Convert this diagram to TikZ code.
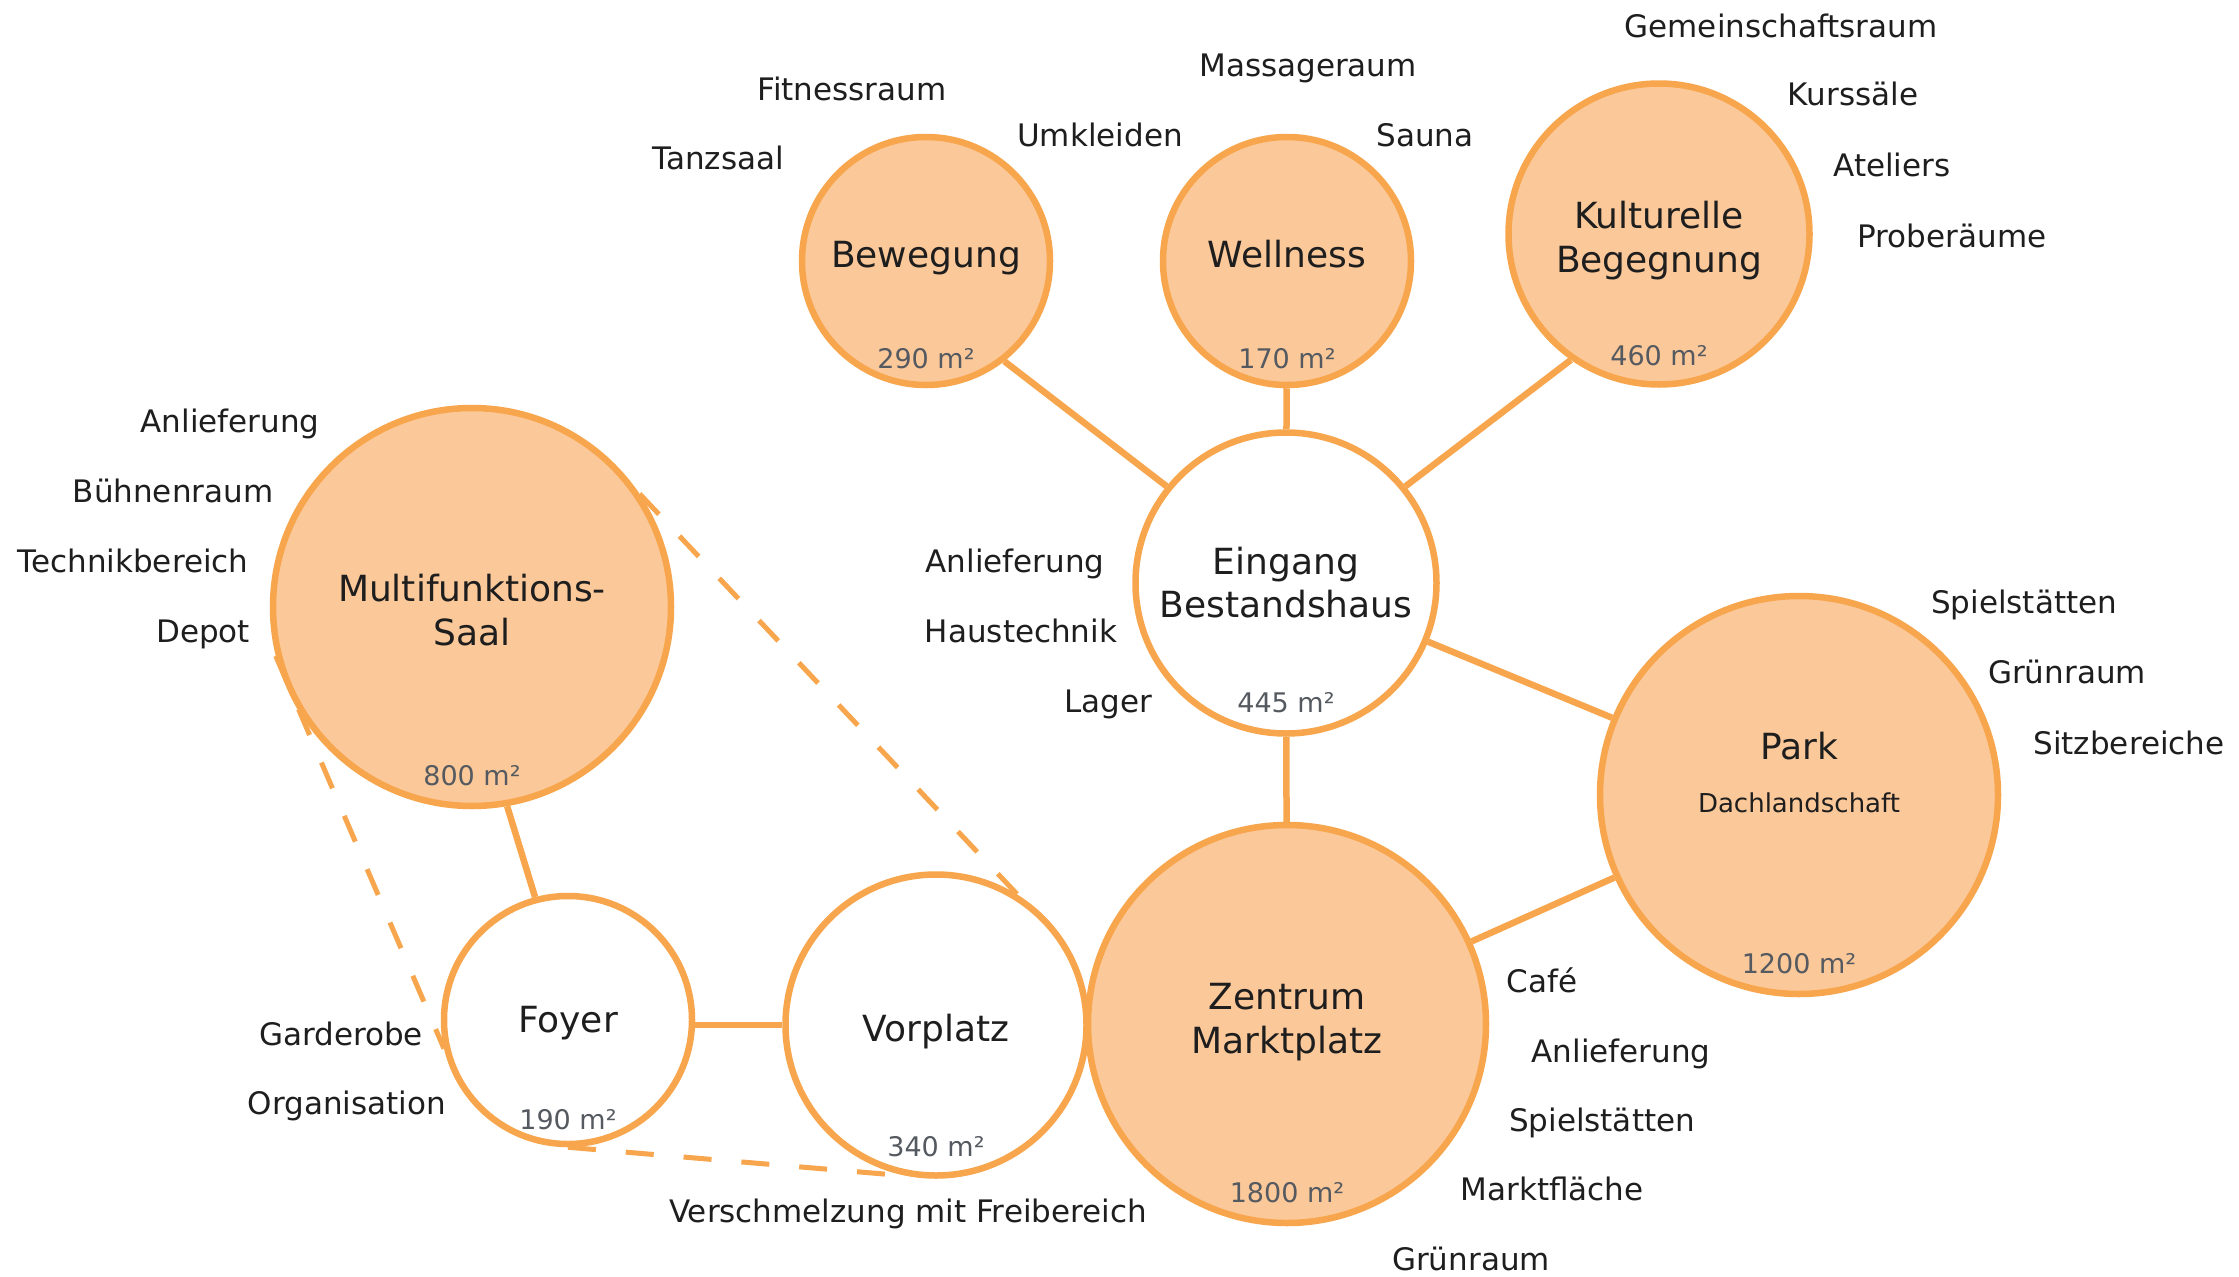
\documentclass[tikz,border=0pt]{standalone}
\usepackage{fontspec}
\setmainfont{DejaVu Sans}
\definecolor{orl}{RGB}{248,166,77}
\definecolor{orf}{RGB}{251,200,154}
\definecolor{txt}{RGB}{30,30,30}
\definecolor{areac}{RGB}{85,90,96}
\begin{document}
\begin{tikzpicture}[x=1pt,y=-1pt,
  room/.style={circle,draw=orl,line width=6.5pt,inner sep=0pt},
  fullroom/.style={room,fill=orf},
  openroom/.style={room,fill=white},
  smallr/.style={minimum size=248pt},
  mediumr/.style={minimum size=301pt},
  larger/.style={minimum size=398pt},
  link/.style={draw=orl,line width=6.5pt},
  merge/.style={draw=orl,line width=5pt,dash pattern=on 28pt off 30pt},
  mainlbl/.style={anchor=base,inner sep=0pt,text=txt,font=\fontsize{36}{43}\selectfont},
  sublbl/.style={anchor=base,inner sep=0pt,text=txt,font=\fontsize{26}{31}\selectfont},
  sat/.style={anchor=base,inner sep=0pt,text=txt,font=\fontsize{31}{37}\selectfont},
  arealbl/.style={anchor=base,inner sep=0pt,text=areac,font=\fontsize{27}{32}\selectfont},
]
\useasboundingbox[fill=white] (0,0) rectangle (2239,1277);

% rooms
\node[fullroom,smallr]  (bew)  at (926,261)  {};
\node[fullroom,smallr]  (wel)  at (1287,261) {};
\node[fullroom,mediumr] (kul)  at (1659,234) {};
\node[openroom,mediumr] (ein)  at (1286,583) {};
\node[fullroom,larger]  (park) at (1799,795) {};
\node[fullroom,larger]  (zen)  at (1287,1024) {};
\node[fullroom,larger]  (saal) at (472,607)  {};
\node[openroom,smallr]  (foy)  at (568,1020) {};
\node[openroom,mediumr] (vor)  at (936,1025) {};

% connectors
\draw[link] (ein.141) -- (bew.308.6);
\draw[link] (ein) -- (wel);
\draw[link] (ein.39) -- (kul.235);
\draw[link] (ein) -- (park);
\draw[link] (ein) -- (zen);
\draw[link] (zen) -- (park);
\draw[link] (vor.west) -- (vor.west -| foy.east);
\draw[link] (saal.280) -- (foy.105);

% merge outline
\draw[merge] (saal.34) -- (vor.58);
\draw[merge] (saal.194) -- (foy.193);
\draw[merge] (foy.270) -- (vor.259);

% main labels
\node[mainlbl] (bewL) at ([yshift=-6pt]bew.center) {Bewegung};
\node[mainlbl] (welL) at ([yshift=-6pt]wel.center) {Wellness};
\node[mainlbl] (kulA) at ([yshift=6pt]kul.center) {Kulturelle};
\node[mainlbl] (kulB) at ([yshift=-38pt]kul.center) {Begegnung};
\node[mainlbl] (einA) at ([yshift=9pt]ein.center) {Eingang};
\node[mainlbl] (einB) at ([yshift=-34pt]ein.center) {Bestandshaus};
\node[mainlbl] (parkA) at ([yshift=36pt]park.center) {Park};
\node[sublbl]  (parkB) at ([yshift=-17pt]park.center) {Dachlandschaft};
\node[mainlbl] (zenA) at ([yshift=15pt]zen.center) {Zentrum};
\node[mainlbl] (zenB) at ([yshift=-29pt]zen.center) {Marktplatz};
\node[mainlbl] (saalA) at ([yshift=6pt]saal.center) {Multifunktions-};
\node[mainlbl] (saalB) at ([yshift=-38pt]saal.center) {Saal};
\node[mainlbl] (foyL) at ([yshift=-12pt]foy.center) {Foyer};
\node[mainlbl] (vorL) at ([yshift=-16pt]vor.center) {Vorplatz};

% areas
\node[arealbl] (bewM)  at ([yshift=-107pt]bew.center)  {290 m²};
\node[arealbl] (welM)  at ([yshift=-107pt]wel.center)  {170 m²};
\node[arealbl] (kulM)  at ([yshift=-131pt]kul.center)  {460 m²};
\node[arealbl] (einM)  at ([yshift=-129pt]ein.center)  {445 m²};
\node[arealbl] (parkM) at ([yshift=-178pt]park.center) {1200 m²};
\node[arealbl] (zenM)  at ([yshift=-178pt]zen.center)  {1800 m²};
\node[arealbl] (saalM) at ([yshift=-178pt]saal.center) {800 m²};
\node[arealbl] (foyM)  at ([yshift=-109pt]foy.center)  {190 m²};
\node[arealbl] (vorM)  at ([yshift=-131pt]vor.center)  {340 m²};

% satellite labels
\node[sat] (s1)  at (852,100)  {Fitnessraum};
\node[sat] (s2)  at (718,169)  {Tanzsaal};
\node[sat] (s3)  at (1100,146) {Umkleiden};
\node[sat] (s4)  at (1308,76)  {Massageraum};
\node[sat] (s5)  at (1425,146) {Sauna};
\node[sat] (s6)  at (1781,37)  {Gemeinschaftsraum};
\node[sat] (s7)  at (1853,105) {Kurssäle};
\node[sat] (s8)  at (1892,176) {Ateliers};
\node[sat] (s9)  at (1952,247) {Proberäume};
\node[sat] (s10) at (230,432)  {Anlieferung};
\node[sat] (s11) at (173,502)  {Bühnenraum};
\node[sat] (s12) at (133,572)  {Technikbereich};
\node[sat] (s13) at (203,642)  {Depot};
\node[sat] (s14) at (1015,572) {Anlieferung};
\node[sat] (s15) at (1021,642) {Haustechnik};
\node[sat] (s16) at (1108,712) {Lager};
\node[sat] (s17) at (2024,613) {Spielstätten};
\node[sat] (s18) at (2067,683) {Grünraum};
\node[sat] (s19) at (2129,754) {Sitzbereiche};
\node[sat] (s20) at (1542,992) {Café};
\node[sat] (s21) at (1621,1062) {Anlieferung};
\node[sat] (s22) at (1602,1131) {Spielstätten};
\node[sat] (s23) at (1552,1200) {Marktfläche};
\node[sat] (s24) at (1471,1270) {Grünraum};
\node[sat] (s25) at (341,1045) {Garderobe};
\node[sat] (s26) at (347,1114) {Organisation};
\node[sat] (s27) at (908,1222) {Verschmelzung mit Freibereich};
\end{tikzpicture}
\end{document}
